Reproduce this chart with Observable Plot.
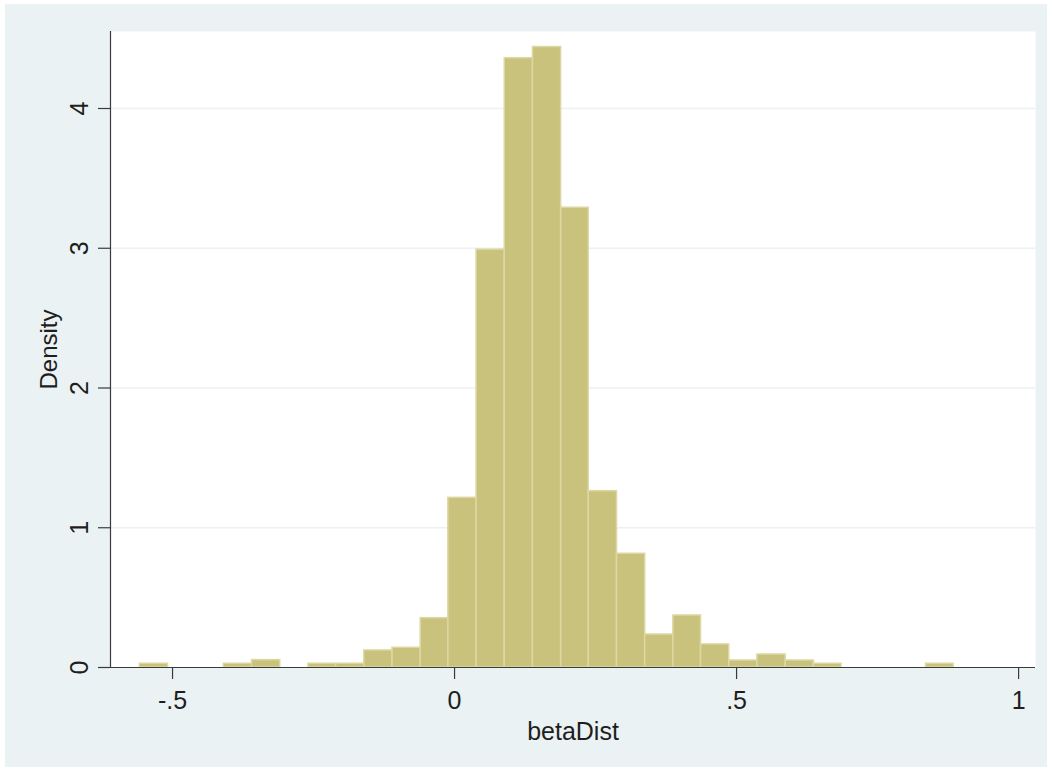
<!DOCTYPE html>
<html>
<head>
<meta charset="utf-8">
<script src="https://cdn.jsdelivr.net/npm/d3@7"></script>
<script src="https://cdn.jsdelivr.net/npm/@observablehq/plot@0.6"></script>
<style>
  html, body { margin: 0; padding: 0; background: #ffffff; }
  #chart { position: absolute; left: 5px; top: 4px; width: 1042px; height: 763px; background: #EAF2F3; }
  #chart svg { display: block; }
</style>
</head>
<body>
<div id="chart"></div>
<script>
// Histogram bins of betaDist (lower edges, last value = upper edge of last bin)
const binEdges = [-0.558, -0.508, -0.458, -0.409, -0.359, -0.309, -0.259, -0.210, -0.160, -0.110,
  -0.060, -0.011, 0.039, 0.089, 0.139, 0.189, 0.238, 0.288, 0.338, 0.388,
  0.437, 0.487, 0.537, 0.587, 0.637, 0.686, 0.736, 0.786, 0.836, 0.885];
// Density per bin
const densities = [0.027, 0, 0, 0.027, 0.053, 0, 0.027, 0.027, 0.122, 0.141,
  0.353, 1.214, 2.99, 4.36, 4.44, 3.29, 1.262, 0.814, 0.236, 0.372,
  0.165, 0.05, 0.093, 0.05, 0.027, 0, 0, 0, 0.027];

const xTicks = [-0.5, 0, 0.5, 1];
const xTickLabels = ["-.5", "0", ".5", "1"];
const yTicks = [0, 1, 2, 3, 4];
const yTickLabels = ["0", "1", "2", "3", "4"];
const gridValues = [1, 2, 3, 4];
const xTitle = "betaDist";
const yTitle = "Density";

const bins = densities.map((d, i) => ({x1: binEdges[i], x2: binEdges[i + 1], y: d})).filter(b => b.y > 0);
const xLabelData = xTicks.map((v, i) => ({v, t: xTickLabels[i]}));
const yLabelData = yTicks.map((v, i) => ({v, t: yTickLabels[i]}));

const font = "'Liberation Sans', Arial, Helvetica, sans-serif";
const axisColor = "#3a3a3a";
const textColor = "#1e1e1e";

const chart = Plot.plot({
  width: 1042,
  height: 763,
  marginLeft: 105,
  marginRight: 12,
  marginTop: 27,
  marginBottom: 100,
  style: {background: "transparent", fontFamily: font, overflow: "visible"},
  x: {domain: [-0.61, 1.03], axis: null},
  y: {domain: [0, 4.551], axis: null},
  marks: [
    Plot.frame({fill: "#ffffff", stroke: null}),
    Plot.ruleY(gridValues, {stroke: "#EAF2F3", strokeWidth: 1.6}),
    Plot.rectY(bins, {x1: "x1", x2: "x2", y: "y", fill: "#C9C27D", stroke: "#DDD7A3", strokeWidth: 1.5, inset: 0}),
    Plot.ruleX([-0.61], {stroke: axisColor, strokeWidth: 1.2}),
    Plot.ruleY([0], {stroke: axisColor, strokeWidth: 1.2}),
    Plot.axisX({ticks: xTicks, tickSize: 12, tickFormat: () => "", stroke: axisColor, strokeWidth: 1.2, label: null}),
    Plot.axisY({ticks: yTicks, tickSize: 12, tickFormat: () => "", stroke: axisColor, strokeWidth: 1.2, label: null}),
    Plot.text(xLabelData, {x: "v", text: "t", frameAnchor: "bottom", dy: 33, fontSize: 25, fill: textColor, textAnchor: "middle", lineAnchor: "middle"}),
    Plot.text(yLabelData, {y: "v", text: "t", frameAnchor: "left", dx: -31, rotate: -90, fontSize: 25, fill: textColor, textAnchor: "middle", lineAnchor: "middle"}),
    Plot.text([xTitle], {frameAnchor: "bottom", dy: 64, text: d => d, fontSize: 25, fill: textColor, textAnchor: "middle", lineAnchor: "middle"}),
    Plot.text([yTitle], {frameAnchor: "left", dx: -61, rotate: -90, text: d => d, fontSize: 24, fill: textColor, textAnchor: "middle", lineAnchor: "middle"})
  ]
});
document.getElementById("chart").appendChild(chart);
</script>
</body>
</html>
